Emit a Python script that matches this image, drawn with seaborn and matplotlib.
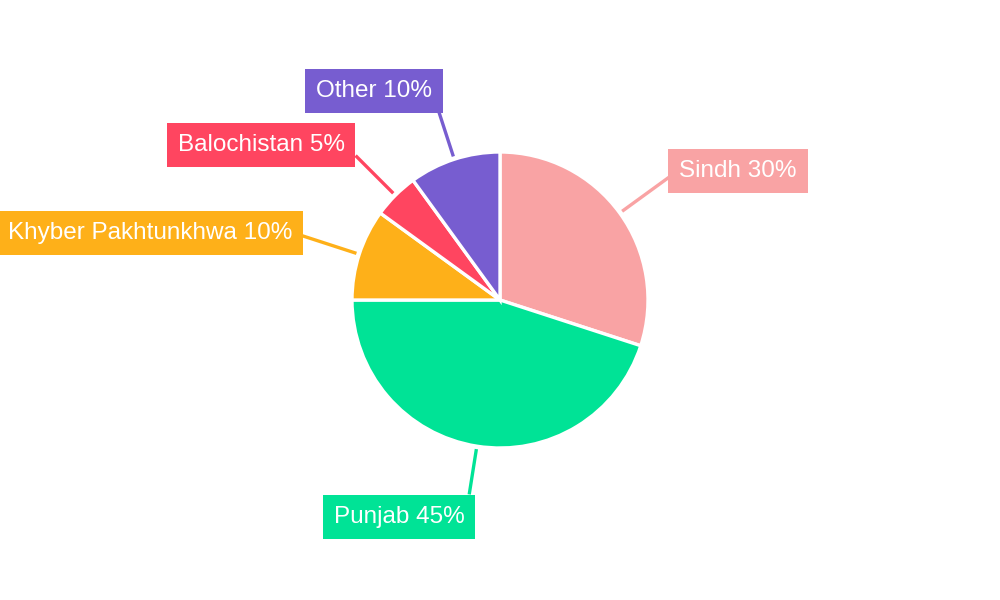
import matplotlib
matplotlib.use("Agg")
import matplotlib.pyplot as plt
import numpy as np
import seaborn as sns

# chart data
regions = ["Sindh", "Punjab", "Khyber Pakhtunkhwa", "Balochistan", "Other"]
shares = [30, 45, 10, 5, 10]
colors = ["#F9A3A4", "#00E396", "#FEB019", "#FF4560", "#775DD0"]

# label box centres in pixels (x from left, y from top) and leader line ends
label_px = [(738, 171), (399, 517), (150, 233), (261, 145), (374, 91)]
line_end_r = [1.41, 1.33, 1.42, 1.38, 1.35]

sns.set_theme(style="white")
plt.rcParams["font.family"] = ["Liberation Sans", "DejaVu Sans"]

R_PX = 148.0
fig = plt.figure(figsize=(10, 6), dpi=100)
ax = fig.add_axes([0, 0, 1, 1])

palette = sns.color_palette(colors)
wedges, _ = ax.pie(
    shares,
    colors=palette,
    startangle=90,
    counterclock=False,
    radius=1.0,
    wedgeprops={"edgecolor": "white", "linewidth": 2.4},
)

total = float(sum(shares))
cum = 0.0
for name, val, col, (px, py), r_end in zip(regions, shares, palette, label_px, line_end_r):
    mid = (cum + val / 2) / total
    cum += val
    theta = np.pi / 2 - 2 * np.pi * mid
    dx, dy = np.cos(theta), np.sin(theta)
    ax.plot([1.02 * dx, r_end * dx], [1.02 * dy, r_end * dy], color=col, lw=2.4,
            solid_capstyle="butt", zorder=1)
    ax.text(
        (px - 500) / R_PX,
        (300 - py) / R_PX,
        f"{name} {val}%",
        ha="center",
        va="center",
        color="white",
        fontsize=17.5,
        bbox={"boxstyle": "square,pad=0.45", "facecolor": col, "edgecolor": "none"},
        zorder=3,
    )

ax.set_xlim(-500 / R_PX, 500 / R_PX)
ax.set_ylim(-300 / R_PX, 300 / R_PX)
ax.set_aspect("equal")
ax.axis("off")

fig.savefig("out.png", dpi=100, facecolor="white")
